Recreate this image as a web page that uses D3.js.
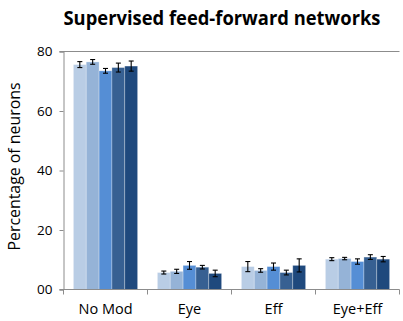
<!DOCTYPE html>
<html>
<head>
<meta charset="utf-8">
<script src="https://cdn.jsdelivr.net/npm/d3@7"></script>
<style>
  body { margin: 0; background: white; }
  text { font-family: "Open Sans", "Noto Sans", sans-serif; }
</style>
</head>
<body>
<svg id="chart"></svg>
<script>
// Chart data
const categories = ["No Mod", "Eye", "Eff", "Eye+Eff"];
const seriesNames = ["s1", "s2", "s3", "s4", "s5"];
const values = [
  [75.6, 76.5, 73.5, 74.6, 75.1],
  [5.7, 6.1, 8.1, 7.5, 5.4],
  [7.7, 6.4, 7.7, 5.7, 8.1],
  [10.2, 10.4, 9.4, 10.9, 10.2]
];
const errors = [
  [1.0, 0.8, 0.8, 1.5, 1.7],
  [0.5, 0.7, 1.3, 0.6, 1.1],
  [1.7, 0.6, 1.2, 0.8, 2.2],
  [0.5, 0.4, 0.9, 0.8, 0.9]
];
const yTicks = [0, 20, 40, 60, 80];
const yTickLabels = ["00", "20", "40", "60", "80"];
const colours = ["#b9cde5", "#95b3d7", "#558ed5", "#376092", "#1f497d"];

const width = 403, height = 321;
const margin = { top: 51.5, right: 3.5, bottom: 31.5, left: 63.5 };

const svg = d3.select("#chart")
    .attr("width", width)
    .attr("height", height);

const x = d3.scaleBand()
    .domain(categories)
    .range([margin.left, width - margin.right])
    .paddingInner(0)
    .paddingOuter(0);

const xInner = d3.scaleBand()
    .domain(seriesNames)
    .range([0, x.bandwidth()])
    .paddingInner(0)
    .paddingOuter(0.77);

const y = d3.scaleLinear()
    .domain([0, 80])
    .range([height - margin.bottom, margin.top]);

// Title
svg.append("text")
    .attr("x", 222)
    .attr("y", 25)
    .attr("text-anchor", "middle")
    .attr("font-size", 19.5)
    .attr("font-weight", "bold")
    .attr("fill", "#000")
    .attr("textLength", 317)
    .attr("lengthAdjust", "spacingAndGlyphs")
    .text("Supervised feed-forward networks");

// Top line at 80
svg.append("line")
    .attr("x1", margin.left - 4)
    .attr("x2", width - margin.right)
    .attr("y1", y(80))
    .attr("y2", y(80))
    .attr("stroke", "#8c8c8c")
    .attr("stroke-width", 1);

// Y axis
const yAxis = svg.append("g")
    .attr("transform", `translate(${margin.left},0)`)
    .call(d3.axisLeft(y)
      .tickValues(yTicks)
      .tickFormat((d, i) => yTickLabels[i])
      .tickSize(4)
      .tickPadding(7));
yAxis.select(".domain").attr("stroke", "#8c8c8c");
yAxis.selectAll(".tick line").attr("stroke", "#8c8c8c");
yAxis.selectAll(".tick text")
    .attr("font-size", 13.5)
    .attr("fill", "#000")
    .attr("font-family", "Open Sans, sans-serif");

// Y label
svg.append("text")
    .attr("transform", `translate(20,${(margin.top + height - margin.bottom) / 2 - 4}) rotate(-90)`)
    .attr("text-anchor", "middle")
    .attr("font-size", 15.5)
    .attr("fill", "#000")
    .attr("textLength", 168)
    .attr("lengthAdjust", "spacingAndGlyphs")
    .text("Percentage of neurons");

// Bars
const groups = svg.selectAll("g.group")
    .data(categories)
  .join("g")
    .attr("class", "group")
    .attr("transform", d => `translate(${x(d)},0)`);

groups.selectAll("rect")
    .data((d, i) => values[i].map((v, j) => ({ v: v, e: errors[i][j], s: seriesNames[j], j: j })))
  .join("rect")
    .attr("x", d => xInner(d.s))
    .attr("y", d => y(d.v))
    .attr("width", xInner.bandwidth())
    .attr("height", d => y(0) - y(d.v))
    .attr("fill", d => colours[d.j])
    .attr("stroke", "#ffffff")
    .attr("stroke-opacity", 0.35)
    .attr("stroke-width", 0.8);

// Error bars
const err = groups.selectAll("g.err")
    .data((d, i) => values[i].map((v, j) => ({ v: v, e: errors[i][j], s: seriesNames[j] })))
  .join("g")
    .attr("class", "err")
    .attr("transform", d => `translate(${xInner(d.s) + xInner.bandwidth() / 2},0)`);

err.append("line")
    .attr("x1", 0).attr("x2", 0)
    .attr("y1", d => y(d.v - d.e))
    .attr("y2", d => y(d.v + d.e));
err.append("line")
    .attr("x1", -2.5).attr("x2", 2.5)
    .attr("y1", d => y(d.v - d.e))
    .attr("y2", d => y(d.v - d.e));
err.append("line")
    .attr("x1", -2.5).attr("x2", 2.5)
    .attr("y1", d => y(d.v + d.e))
    .attr("y2", d => y(d.v + d.e));
err.selectAll("line")
    .attr("stroke", "#000")
    .attr("stroke-width", 1.1);

// X axis
const xAxisG = svg.append("g")
    .attr("transform", `translate(0,${y(0)})`);
xAxisG.append("line")
    .attr("x1", margin.left - 4)
    .attr("x2", width - margin.right)
    .attr("stroke", "#8c8c8c");
const bounds = categories.map(c => x(c)).concat([x(categories[categories.length - 1]) + x.bandwidth()]);
xAxisG.selectAll("line.tick")
    .data(bounds)
  .join("line")
    .attr("class", "tick")
    .attr("x1", d => d).attr("x2", d => d)
    .attr("y1", 0).attr("y2", 5)
    .attr("stroke", "#8c8c8c");
xAxisG.selectAll("text")
    .data(categories)
  .join("text")
    .attr("x", d => x(d) + x.bandwidth() / 2)
    .attr("y", 24)
    .attr("text-anchor", "middle")
    .attr("font-size", 14.5)
    .attr("fill", "#000")
    .text(d => d);
</script>
</body>
</html>
